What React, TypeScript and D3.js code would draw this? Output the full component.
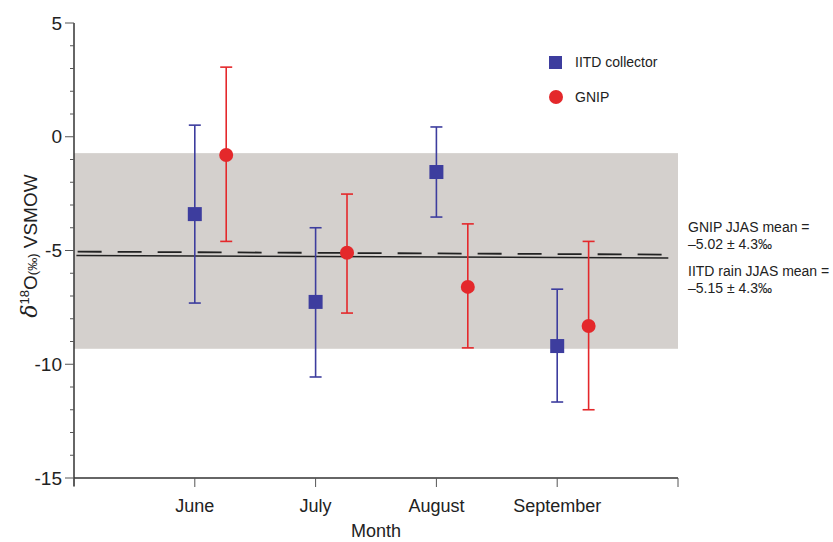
import React from 'react'
import * as d3 from 'd3'

// months on the x axis (positions 1..4, axis runs 0..5)
const months = ['June', 'July', 'August', 'September']

// IITD collector monthly means with error bar ends (‰)
const iitdMean = [-3.4, -7.26, -1.55, -9.2]
const iitdLow = [-7.31, -10.56, -3.53, -11.66]
const iitdHigh = [0.51, -4.0, 0.43, -6.7]

// GNIP monthly means with error bar ends (‰)
const gnipMean = [-0.8, -5.1, -6.6, -8.32]
const gnipLow = [-4.6, -7.75, -9.28, -12.0]
const gnipHigh = [3.06, -2.52, -3.83, -4.6]

// JJAS mean lines, left and right ends as they appear in the picture
const gnipLine = [-5.05, -5.18]
const iitdLine = [-5.22, -5.33]

// shaded band: GNIP JJAS mean ± 4.3
const bandTop = -0.72
const bandBottom = -9.32

const yMajor = [5, 0, -5, -10, -15]
const yMinor = d3.range(-15, 6, 1)
const xTicks = [0, 1, 2, 3, 4, 5]

const BLUE = '#3d3d9e'
const RED = '#e4282b'
const FONT = '"Liberation Sans", Arial, Helvetica, sans-serif'

const App = () => {
  const width = 833
  const height = 542
  const left = 74
  const right = 678
  const top = 23
  const bottom = 478

  const x = d3.scaleLinear().domain([0, 5]).range([left, right])
  const y = d3.scaleLinear().domain([-15, 5]).range([bottom, top])
  const gnipOffset = 0.26
  const cap = 6

  const lineGen = d3.line<[number, number]>()
    .x(d => d[0])
    .y(d => d[1])

  return (
    <svg width={width} height={height} style={{ display: 'block', position: 'absolute', left: 0, top: 0 }}
      fontFamily={FONT}>
      <rect x={0} y={0} width={width} height={height} fill="#fff" />
      {/* band */}
      <rect x={left} y={y(bandTop)} width={right - left} height={y(bandBottom) - y(bandTop)} fill="#d4d0cd" />

      {/* mean lines */}
      <path d={lineGen([[x(0.03), y(gnipLine[0])], [x(4.9), y(gnipLine[1])]]) || ''}
        stroke="#222" strokeWidth={1.8} strokeDasharray="24 16" fill="none" />
      <path d={lineGen([[x(0.02), y(iitdLine[0])], [x(4.92), y(iitdLine[1])]]) || ''}
        stroke="#222" strokeWidth={1.5} fill="none" />

      {/* y axis */}
      <line x1={left} x2={left} y1={top} y2={bottom + 8} stroke="#333" strokeWidth={1.5} />
      {yMinor.map(v => (
        <line key={`m${v}`} x1={left - (v % 5 === 0 ? 9 : 4)} x2={left} y1={y(v)} y2={y(v)} stroke="#555" strokeWidth={1} />
      ))}
      {yMajor.map(v => (
        <text key={`yl${v}`} x={left - 12} y={y(v)} dy="0.35em" textAnchor="end" fontSize={19} fill="#222">
          {v}
        </text>
      ))}

      {/* x axis */}
      <line x1={left} x2={right} y1={bottom} y2={bottom} stroke="#333" strokeWidth={1.5} />
      {xTicks.map(v => (
        <line key={`xt${v}`} x1={x(v)} x2={x(v)} y1={bottom} y2={bottom + 9} stroke="#555" strokeWidth={1} />
      ))}
      {months.map((m, i) => (
        <text key={m} x={x(i + 1)} y={512} textAnchor="middle" fontSize={18} fill="#222">{m}</text>
      ))}
      <text x={(left + right) / 2} y={537} textAnchor="middle" fontSize={18} fill="#222">Month</text>

      {/* y label */}
      <text transform={`translate(37,246) rotate(-90)`} textAnchor="middle" fontSize={19} fill="#222">
        <tspan fontStyle="italic" fontFamily="'DejaVu Serif', serif" fontSize={22}>δ</tspan>
        <tspan fontSize={13} dy={-8}>18</tspan>
        <tspan dy={8}>O</tspan>
        <tspan fontSize={13}>(‰)</tspan>
        <tspan> VSMOW</tspan>
      </text>

      {/* IITD error bars & squares */}
      {iitdMean.map((v, i) => {
        const cx = x(i + 1)
        return (
          <g key={`iitd${i}`} stroke={BLUE} strokeWidth={1.6}>
            <line x1={cx} x2={cx} y1={y(iitdHigh[i])} y2={y(iitdLow[i])} />
            <line x1={cx - cap} x2={cx + cap} y1={y(iitdHigh[i])} y2={y(iitdHigh[i])} />
            <line x1={cx - cap} x2={cx + cap} y1={y(iitdLow[i])} y2={y(iitdLow[i])} />
            <rect x={cx - 7} y={y(v) - 7} width={14} height={14} fill={BLUE} stroke="none" />
          </g>
        )
      })}

      {/* GNIP error bars & circles */}
      {gnipMean.map((v, i) => {
        const cx = x(i + 1 + gnipOffset)
        return (
          <g key={`gnip${i}`} stroke={RED} strokeWidth={1.6}>
            <line x1={cx} x2={cx} y1={y(gnipHigh[i])} y2={y(gnipLow[i])} />
            <line x1={cx - cap} x2={cx + cap} y1={y(gnipHigh[i])} y2={y(gnipHigh[i])} />
            <line x1={cx - cap} x2={cx + cap} y1={y(gnipLow[i])} y2={y(gnipLow[i])} />
            <circle cx={cx} cy={y(v)} r={7} fill={RED} stroke="none" />
          </g>
        )
      })}

      {/* legend */}
      <rect x={549} y={56} width={13} height={13} fill={BLUE} />
      <text x={575} y={67} fontSize={14} fill="#222">IITD collector</text>
      <circle cx={556} cy={97} r={7} fill={RED} />
      <text x={575} y={102} fontSize={14} fill="#222">GNIP</text>

      {/* annotations */}
      <g fontSize={14} fill="#222">
        <text x={688} y={232}>GNIP JJAS mean =</text>
        <text x={688} y={249}>–5.02 ± 4.3‰</text>
        <text x={688} y={276}>IITD rain JJAS mean =</text>
        <text x={688} y={293}>–5.15 ± 4.3‰</text>
      </g>
    </svg>
  )
}

export default App
